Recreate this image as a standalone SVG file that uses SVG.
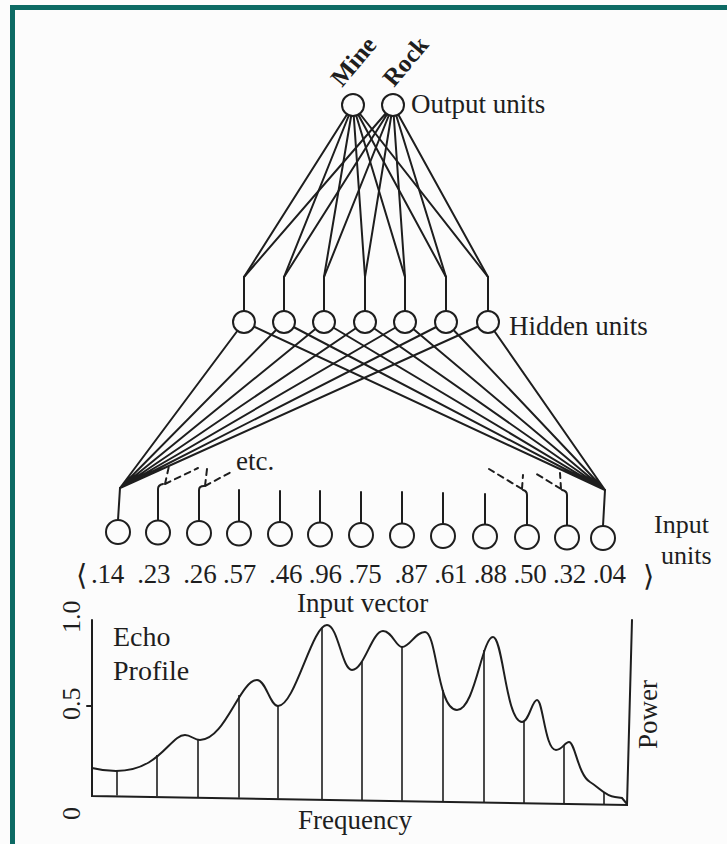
<svg xmlns="http://www.w3.org/2000/svg" width="727" height="844" viewBox="0 0 727 844">
<style>
.t{font-family:"Liberation Serif","Times New Roman",serif;fill:#1e1e1e;font-size:27px}
.b{font-weight:bold;font-size:25px}
.ln{stroke:#1e1e1e;stroke-width:2;fill:none;stroke-linecap:round}
.dash{stroke:#1e1e1e;stroke-width:2;fill:none;stroke-dasharray:6 5}
.nd{fill:#fcfcfc;stroke:#1e1e1e;stroke-width:2}
.smp{stroke:#1e1e1e;stroke-width:1.6}
.br{font-family:"DejaVu Serif",serif;font-size:29px;fill:#1e1e1e}
</style>
<rect x="0" y="0" width="727" height="844" fill="#fcfcfc"/>
<rect x="10" y="5" width="717" height="5" fill="#0d6a64"/>
<rect x="10" y="5" width="5" height="839" fill="#0d6a64"/>

<g id="connectors" class="ln">
  <path d="M244,311V277M284,311V277M324,311V277M365,311V277M405,311V277M446,311V277M488,311V277"/>
  <path d="M244,277L353,105M284,277L353,105M324,277L353,105M365,277L353,105M405,277L353,105M446,277L353,105M488,277L353,105"/>
  <path d="M244,277L393,105M284,277L393,105M324,277L393,105M365,277L393,105M405,277L393,105M446,277L393,105M488,277L393,105"/>
  <path d="M120,488L244,322M120,488L284,322M120,488L324,322M120,488L365,322M120,488L405,322M120,488L446,322M120,488L488,322"/>
  <path d="M605,490L244,322M605,490L284,322M605,490L324,322M605,490L365,322M605,490L405,322M605,490L446,322M605,490L488,322"/>
  <path d="M120,488L118,520"/>
  <path d="M605,490L603,526"/>
  <path d="M158,521V489Q158,485 163,484"/>
  <path d="M199,521V490Q199,486 204,486"/>
  <path d="M239,521V490M280,521V491M320,522V491M361,522V492M402,523V492M443,523V493M485,524V494"/>
  <path d="M527,524V495Q527,491 523,490"/>
  <path d="M567,525V495Q567,491 562,490"/>
  <path class="dash" d="M165,484L198,468M165,484L169,466M205,486L233,471M205,486L207,469"/>
  <path class="dash" d="M522,489L489,469M522,489L523,475M561,489L535,473M561,489L560,473"/>
</g>

<g id="output-mine"><circle class="nd" cx="353" cy="105" r="11"/><text class="t b" transform="translate(342,88) rotate(-50)">Mine</text></g>
<g id="output-rock"><circle class="nd" cx="393" cy="105" r="11"/><text class="t b" transform="translate(394,88) rotate(-50)">Rock</text></g>
<g id="output-label"><text class="t" x="411" y="113">Output units</text></g>

<g id="hidden-1"><circle class="nd" cx="244" cy="322" r="11"/></g>
<g id="hidden-2"><circle class="nd" cx="284" cy="322" r="11"/></g>
<g id="hidden-3"><circle class="nd" cx="324" cy="322" r="11"/></g>
<g id="hidden-4"><circle class="nd" cx="365" cy="322" r="11"/></g>
<g id="hidden-5"><circle class="nd" cx="405" cy="322" r="11"/></g>
<g id="hidden-6"><circle class="nd" cx="446" cy="322" r="11"/></g>
<g id="hidden-7"><circle class="nd" cx="488" cy="322" r="11"/></g>
<g id="hidden-label"><text class="t" x="509" y="335">Hidden units</text></g>
<g id="etc"><text class="t" x="236" y="470">etc.</text></g>

<g id="input-1"><circle class="nd" cx="118" cy="532" r="12"/></g>
<g id="input-2"><circle class="nd" cx="158" cy="532.5" r="12"/></g>
<g id="input-3"><circle class="nd" cx="199" cy="533" r="12"/></g>
<g id="input-4"><circle class="nd" cx="239" cy="533.5" r="12"/></g>
<g id="input-5"><circle class="nd" cx="280" cy="534" r="12"/></g>
<g id="input-6"><circle class="nd" cx="320" cy="534.5" r="12"/></g>
<g id="input-7"><circle class="nd" cx="361" cy="535" r="12"/></g>
<g id="input-8"><circle class="nd" cx="402" cy="535.5" r="12"/></g>
<g id="input-9"><circle class="nd" cx="443" cy="536" r="12"/></g>
<g id="input-10"><circle class="nd" cx="485" cy="536.5" r="12"/></g>
<g id="input-11"><circle class="nd" cx="527" cy="537" r="12"/></g>
<g id="input-12"><circle class="nd" cx="567" cy="537.5" r="12"/></g>
<g id="input-13"><circle class="nd" cx="603" cy="538" r="12"/></g>
<g id="input-label"><text class="t" x="654" y="533" style="font-size:26px">Input</text><text class="t" x="661" y="564" style="font-size:26px">units</text></g>

<g id="input-vector">
  <text class="br" x="76" y="585">⟨</text>
  <text class="t" x="91" y="583" xml:space="preserve" textLength="535" lengthAdjust="spacing">.14  .23  .26 .57  .46 .96 .75  .87 .61 .88 .50 .32 .04</text>
  <text class="br" x="643" y="586">⟩</text>
  <text class="t" x="297" y="612">Input vector</text>
</g>

<g id="echo-chart">
  <path class="ln" d="M92,620V796L627,805L632,620M87,706H92"/>
  <path class="ln" d="M92,768C100,770 108,771 116,771C160,771 170,735 185,735C191,735 194,740 200,740C225,740 240,680 257,680C266,680 270,706 278,706C295,706 312,625 327,625C338,625 342,670 352,670C364,670 372,631 383,631C392,631 396,647 402,647C410,647 415,632 425,632C437,632 437,710 457,710C475,710 482,637 493,637C503,637 506,722 522,722C529,722 532,700 537,700C543,700 545,750 556,750C562,750 565,742 569,742C575,742 578,775 590,782C600,788 605,796 615,797L622,798L627,804"/>
  <path class="smp" d="M117,771V795.5M157,755V796.2M198,740V797M239,695V797.7M278,706V798.5M322,628V799.3M362,662V800M402,647V800.8M443,690V801.6M484,650V802.3M524,721V803.1M564,745V803.8M604,792V804.6"/>
  <text class="t" x="113" y="646" style="font-size:28px">Echo</text>
  <text class="t" x="113" y="680" style="font-size:28px">Profile</text>
  <text class="t" transform="translate(80,633) rotate(-90)" style="font-size:26px">1.0</text>
  <text class="t" transform="translate(80,720) rotate(-90)" style="font-size:26px">0.5</text>
  <text class="t" transform="translate(80,820) rotate(-90)" style="font-size:26px">0</text>
  <text class="t" x="298" y="829">Frequency</text>
  <text class="t" transform="translate(657,749) rotate(-90)">Power</text>
</g>
</svg>
